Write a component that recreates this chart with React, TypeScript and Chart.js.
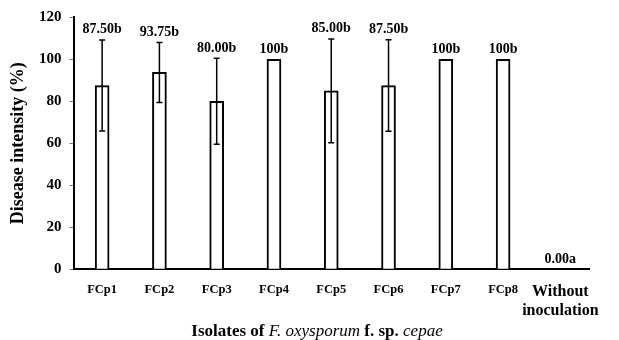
import { useEffect, useRef } from 'react';
import { Chart, registerables } from 'chart.js';

Chart.register(...registerables);

const categories: (string | string[])[] = ['FCp1', 'FCp2', 'FCp3', 'FCp4', 'FCp5', 'FCp6', 'FCp7', 'FCp8', ['Without', 'inoculation']];
const values = [87.5, 93.75, 80, 100, 85, 87.5, 100, 100, 0];
const errors = [21.7, 14.3, 20.5, 0, 24.7, 21.8, 0, 0, 0];
const valueLabels = ['87.50b', '93.75b', '80.00b', '100b', '85.00b', '87.50b', '100b', '100b', '0.00a'];
const yMin = 0;
const yMax = 120;
const yStep = 20;
const yTitle = 'Disease intensity (%)';
const xTitleParts: { text: string; italic: boolean }[] = [
  { text: 'Isolates of ', italic: false },
  { text: 'F. oxysporum', italic: true },
  { text: ' f. sp. ', italic: false },
  { text: 'cepae', italic: true },
];

const FAMILY = "'Liberation Serif', 'Times New Roman', serif";

const errorBarsAndLabels = {
  id: 'errorBarsAndLabels',
  afterDatasetsDraw(chart: any) {
    const ctx = chart.ctx;
    const meta = chart.getDatasetMeta(0);
    const yScale = chart.scales.y;
    ctx.save();
    meta.data.forEach((el: any, i: number) => {
      const v = values[i];
      const e = errors[i];
      const x = el.x;
      if (e > 0) {
        const yt = yScale.getPixelForValue(v + e);
        const yb = yScale.getPixelForValue(v - e);
        ctx.strokeStyle = '#000';
        ctx.lineWidth = 1.5;
        ctx.beginPath();
        ctx.moveTo(x, yt);
        ctx.lineTo(x, yb);
        ctx.moveTo(x - 3, yt);
        ctx.lineTo(x + 3, yt);
        ctx.moveTo(x - 3, yb);
        ctx.lineTo(x + 3, yb);
        ctx.stroke();
      }
      const top = yScale.getPixelForValue(v + e);
      ctx.fillStyle = '#000';
      ctx.font = `bold 14px ${FAMILY}`;
      ctx.textAlign = 'center';
      ctx.textBaseline = 'alphabetic';
      ctx.fillText(valueLabels[i], x, top - 6.5);
    });
    ctx.restore();
  },
  afterDraw(chart: any) {
    const ctx = chart.ctx;
    ctx.save();
    const fontFor = (italic: boolean) => (italic ? `italic 17px ${FAMILY}` : `bold 17px ${FAMILY}`);
    let total = 0;
    const widths = xTitleParts.map((p) => {
      ctx.font = fontFor(p.italic);
      const w = ctx.measureText(p.text).width;
      total += w;
      return w;
    });
    let x = 317 - total / 2;
    ctx.fillStyle = '#000';
    ctx.textBaseline = 'middle';
    ctx.textAlign = 'left';
    xTitleParts.forEach((p, i) => {
      ctx.font = fontFor(p.italic);
      ctx.fillText(p.text, x, 332);
      x += widths[i];
    });
    ctx.restore();
  },
};

export default function App() {
  const ref = useRef<HTMLCanvasElement | null>(null);
  useEffect(() => {
    if (!ref.current) return;
    Chart.defaults.font.family = FAMILY;
    Chart.defaults.color = '#000';
    const chart = new Chart(ref.current, {
      type: 'bar',
      data: {
        labels: categories as any,
        datasets: [
          {
            data: values,
            backgroundColor: '#fff',
            borderColor: '#000',
            borderWidth: 2,
            barThickness: 14,
          },
        ],
      },
      options: {
        animation: false,
        responsive: false,
        devicePixelRatio: 1,
        layout: { padding: { left: 0, right: 30, top: 17.3, bottom: 0 } },
        plugins: { legend: { display: false }, tooltip: { enabled: false } },
        scales: {
          x: {
            grid: { display: true, drawOnChartArea: false, drawTicks: false },
            border: { display: true, color: '#000', width: 2 },
            ticks: {
              autoSkip: false,
              maxRotation: 0,
              minRotation: 0,
              padding: 13,
              color: '#000',
              font: (ctx: any) =>
                ctx.index === 8
                  ? { family: FAMILY, size: 16, weight: 'bold' }
                  : { family: FAMILY, size: 12.5, weight: 'bold' },
            },
            afterFit(scale: any) {
              scale.height = 70.7;
            },
          },
          y: {
            min: yMin,
            max: yMax,
            ticks: {
              stepSize: yStep,
              padding: 8,
              color: '#000',
              font: { family: FAMILY, size: 15, weight: 'bold' },
            },
            grid: { display: true, drawOnChartArea: false, drawTicks: true, tickLength: 4, tickColor: '#777', lineWidth: 1 },
            border: { display: true, color: '#000', width: 2 },
            title: {
              display: true,
              text: yTitle,
              color: '#000',
              font: { family: FAMILY, size: 18, weight: 'bold' },
              padding: { top: 8, bottom: 0 },
            },
            afterFit(scale: any) {
              scale.width = 73.5;
            },
          },
        },
      },
      plugins: [errorBarsAndLabels],
    });
    return () => chart.destroy();
  }, []);
  return (
    <div style={{ position: 'fixed', left: 0, top: 0, width: 619, height: 340, background: '#fff' }}>
      <canvas ref={ref} width={619} height={340} style={{ display: 'block' }} />
    </div>
  );
}
